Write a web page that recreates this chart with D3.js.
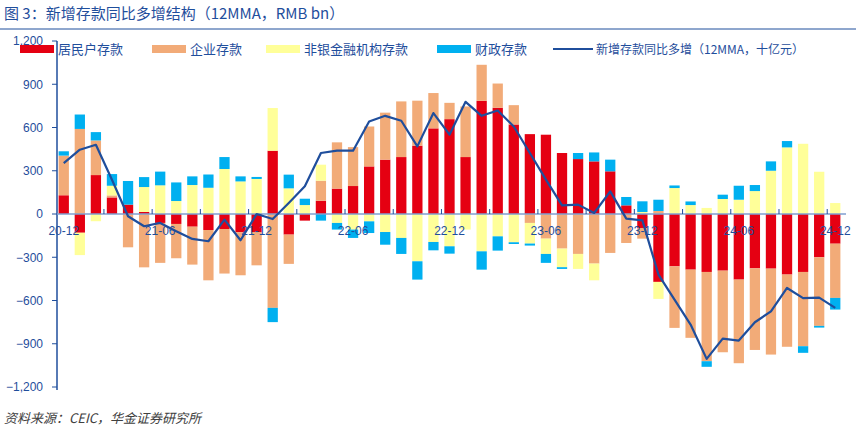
<!DOCTYPE html>
<html><head><meta charset="utf-8">
<script src="https://cdn.jsdelivr.net/npm/d3@7"></script>
<style>body{margin:0;background:#fff;font-family:"Noto Sans CJK SC","Noto Sans",sans-serif}</style>
</head><body>
<svg id="chart" width="856" height="431"></svg>
<script>
var months = ['20-12','21-01','21-02','21-03','21-04','21-05','21-06','21-07','21-08','21-09','21-10','21-11','21-12',
  '22-01','22-02','22-03','22-04','22-05','22-06','22-07','22-08','22-09','22-10','22-11','22-12',
  '23-01','23-02','23-03','23-04','23-05','23-06','23-07','23-08','23-09','23-10','23-11','23-12',
  '24-01','24-02','24-03','24-04','24-05','24-06','24-07','24-08','24-09','24-10','24-11','24-12'];
var household = [130,-130,270,115,65,14,-62,-69,-88,-111,-104,-127,-125,439,-143,-46,92,176,194,330,377,395,474,594,658,395,785,737,621,554,550,423,381,365,296,60,-97,-471,-363,-386,-402,-393,-455,-377,-379,-420,-402,-300,-206];
var corporate = [275,590,240,14,-231,-370,-277,-238,-263,-349,-309,-298,-231,-651,-203,0,139,321,270,277,326,386,312,245,113,351,250,168,134,-62,-171,-240,-277,-344,-270,-201,-74,21,-427,-473,-619,-566,-580,-566,-596,-501,-515,-476,-376];
var nonbank = [0,-155,-50,67,0,173,199,90,201,182,312,226,243,296,178,62,111,-62,-108,-51,-125,-166,-328,-194,-224,-108,-259,-155,-196,-143,-106,-129,-104,-116,0,0,14,-118,180,62,42,104,99,159,300,462,487,293,76];
var fiscal = [30,100,58,81,164,69,95,129,60,92,83,35,14,-99,95,44,-46,-46,-58,-81,-88,-111,-127,-58,-51,0,-127,-99,-12,-14,-62,-12,42,62,81,58,74,78,18,25,-39,30,97,42,65,44,-46,-12,-81];
var total = [353,446,480,238,-16,-85,-62,-120,-173,-189,-39,-182,0,-35,76,192,423,439,439,642,681,647,469,700,550,778,681,718,607,423,238,60,65,7,157,-32,-44,-420,-594,-767,-1005,-864,-878,-751,-675,-513,-584,-580,-651];
var yTicks = [1200,900,600,300,0,-300,-600,-900,-1200];
var keys = ['household','corporate','nonbank','fiscal'];
var names = ['居民户存款','企业存款','非银金融机构存款','财政存款'];
var colors = ['#e50012','#f2ab78','#ffff99','#00b0f0'];
var lineName = '新增存款同比多增（12MMA，十亿元）';

var rows = months.map((m, i) => ({month: m, household: household[i], corporate: corporate[i], nonbank: nonbank[i], fiscal: fiscal[i]}));

var svg = d3.select('#chart'),
    margin = {top: 41, right: 10, bottom: 44, left: 57},
    width = 846 - margin.left,
    height = 431 - margin.top - margin.bottom,
    g = svg.append('g').attr('transform', `translate(${margin.left}, ${margin.top})`);

var navy = '#1f4e9c';

// title
svg.append('text').attr('x', 4).attr('y', 19).attr('font-size', 15).attr('fill', navy).text('图 3：新增存款同比多增结构（12MMA，RMB bn）');
svg.append('line').attr('x1', 0).attr('x2', 856).attr('y1', 29).attr('y2', 29).attr('stroke', navy).attr('stroke-width', 1);

var x = d3.scaleBand().domain(months).range([0, width - 4]).paddingInner(0.36).paddingOuter(0.1);
var y = d3.scaleLinear().domain([-1200, 1200]).range([height, 0]);

var series = d3.stack().keys(keys).offset(d3.stackOffsetDiverging)(rows);

g.selectAll('.series').data(series).join('g')
  .attr('fill', (d, i) => colors[i])
  .selectAll('rect').data(d => d).join('rect')
    .attr('x', d => x(d.data.month))
    .attr('width', x.bandwidth())
    .attr('y', d => y(Math.max(d[0], d[1])))
    .attr('height', d => Math.abs(y(d[0]) - y(d[1])));

// y axis
var yAxis = g.append('g').call(d3.axisLeft(y).tickValues(yTicks).tickSize(0).tickPadding(14));
yAxis.select('.domain').attr('stroke', navy).attr('stroke-width', 1.5).attr('d', `M0,0V${height + 3}`);
yAxis.selectAll('text').attr('fill', navy).attr('font-size', 12).attr('font-family', 'Liberation Sans, Arial');
g.selectAll('.ytick').data(yTicks).join('line')
  .attr('x1', 0).attr('x2', -5).attr('y1', d => y(d)).attr('y2', d => y(d)).attr('stroke', navy);

// zero axis
var step = x.step(), gap = step - x.bandwidth();
var xAxis = g.append('g').attr('transform', `translate(0, ${y(0)})`)
  .call(d3.axisBottom(x).tickValues(months.filter((m, i) => i % 6 === 0)).tickSize(0).tickPadding(12));
xAxis.select('.domain').attr('stroke', '#7f9fd0').attr('stroke-width', 1.5).attr('d', `M0,0H${width}`);
xAxis.selectAll('text').attr('fill', navy).attr('font-size', 12).attr('font-family', 'Liberation Sans, Arial');
xAxis.selectAll('.boundary').data(months.filter((m, i) => i > 0 && i % 3 === 0)).join('line')
  .attr('x1', d => x(d) - gap / 2).attr('x2', d => x(d) - gap / 2)
  .attr('y1', 0).attr('y2', -5).attr('stroke', navy);

// line
var line = d3.line().x((d, i) => x(months[i]) + x.bandwidth() / 2).y(d => y(d));
g.append('path').datum(total)
  .attr('fill', 'none').attr('stroke', navy).attr('stroke-width', 2.2)
  .attr('stroke-linejoin', 'round').attr('d', line);

// legend
var legend = svg.append('g').attr('transform', 'translate(0, 49)').attr('font-size', 13).attr('fill', navy);
var lx = [20, 152, 266, 437];
names.forEach((n, i) => {
  legend.append('rect').attr('x', lx[i]).attr('y', -4).attr('width', 34).attr('height', 8).attr('fill', colors[i]);
  legend.append('text').attr('x', lx[i] + 38).attr('y', 5).attr('fill', navy).text(n);
});
legend.append('line').attr('x1', 553).attr('x2', 593).attr('y1', 0).attr('y2', 0).attr('stroke', navy).attr('stroke-width', 2.2);
legend.append('text').attr('x', 596).attr('y', 5).attr('fill', navy).attr('font-size', 12).text(lineName);

// source
svg.append('text').attr('x', 4).attr('y', 423).attr('font-size', 13).attr('font-style', 'italic').attr('fill', '#404040')
  .text('资料来源：CEIC，华金证券研究所');
</script>
</body></html>
